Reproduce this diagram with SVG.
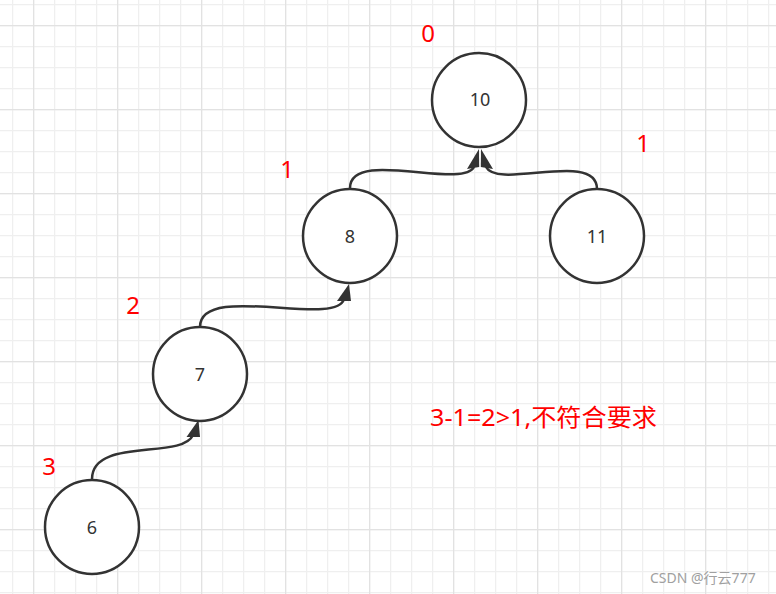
<svg xmlns="http://www.w3.org/2000/svg" width="776" height="594" viewBox="0 0 776 594">
  <style>
    .node circle { fill: #ffffff; stroke: #333333; stroke-width: 2.5; }
    .node text { font-family: "Noto Sans", "Liberation Sans", sans-serif; font-size: 18px; fill: #333333; text-anchor: middle; }
    .lbl { font-family: "Noto Sans", "Noto Sans CJK SC", sans-serif; font-size: 24px; fill: #ff0000; }
    .conn path { fill: none; stroke: #333333; stroke-width: 2.5; }
    .conn polygon { fill: #333333; stroke: none; }
  </style>
  <defs>
    <pattern id="minor" patternUnits="userSpaceOnUse" x="12" y="4" width="21" height="21">
      <path d="M0.5,0 V21 M0,0.5 H21" stroke="#efefef" stroke-width="1.5" fill="none"/>
    </pattern>
    <pattern id="major" patternUnits="userSpaceOnUse" x="33" y="25" width="84" height="84">
      <path d="M0.5,0 V84 M0,0.5 H84" stroke="#e2e2e2" stroke-width="1.5" fill="none"/>
    </pattern>
  </defs>

  <rect width="776" height="594" fill="#ffffff"/>
  <rect width="776" height="594" fill="url(#minor)"/>
  <rect width="776" height="594" fill="url(#major)"/>

  <g id="node-10" class="node">
    <circle cx="479" cy="100" r="47"/>
    <text x="480" y="106">10</text>
  </g>
  <g id="node-8" class="node">
    <circle cx="350" cy="236" r="47"/>
    <text x="350" y="243">8</text>
  </g>
  <g id="node-11" class="node">
    <circle cx="597" cy="236" r="47"/>
    <text x="597" y="243">11</text>
  </g>
  <g id="node-7" class="node">
    <circle cx="200" cy="374" r="47"/>
    <text x="200" y="381">7</text>
  </g>
  <g id="node-6" class="node">
    <circle cx="92" cy="527" r="47"/>
    <text x="92" y="534">6</text>
  </g>

  <g id="connectors" class="conn">
    <path d="M350,188 C350,148 462,190 474,167"/>
    <polygon points="479,149 467,169 479.2,167"/>
    <path d="M597,189 C597,150 498,190 486,167"/>
    <polygon points="481,149 493,169 480.8,167"/>
    <path d="M200,327 C200,282 336,328 344,299"/>
    <polygon points="349,284 337,301 351,301"/>
    <path d="M92,479 C92,437 182,460 193,435"/>
    <polygon points="198.5,420 186.5,437 200,437"/>
  </g>

  <g id="labels">
    <text class="lbl" x="428" y="42" text-anchor="middle">0</text>
    <text class="lbl" x="287" y="178" text-anchor="middle">1</text>
    <text class="lbl" x="643" y="152" text-anchor="middle">1</text>
    <text class="lbl" x="133" y="314" text-anchor="middle">2</text>
    <text class="lbl" x="49" y="475" text-anchor="middle">3</text>
    <text class="lbl" x="430" y="426" font-size="25" textLength="227" lengthAdjust="spacingAndGlyphs">3-1=2&gt;1,不符合要求</text>
  </g>

  <text x="650" y="583" font-family="'Noto Sans', 'Noto Sans CJK SC', sans-serif" font-size="14" fill="#a0a0a0">CSDN @行云777</text>
</svg>
